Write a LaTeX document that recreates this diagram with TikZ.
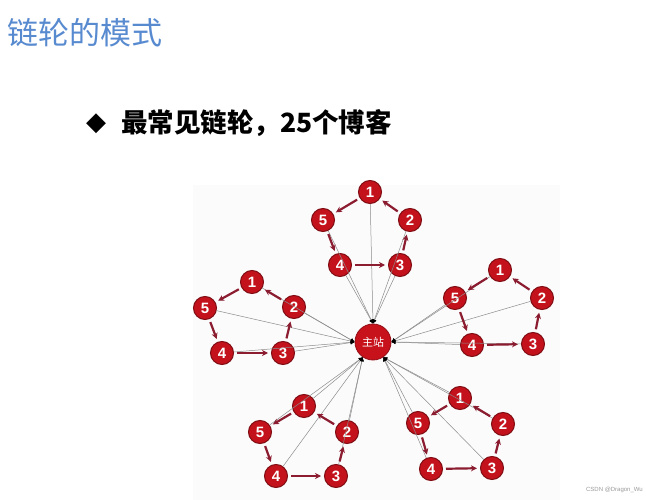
\documentclass[tikz,border=0pt]{standalone}
\usepackage{fontspec}
\usepackage{tikz}
\usetikzlibrary{arrows.meta}
\setmainfont{Liberation Sans}
\newfontfamily\cjk{Noto Sans CJK SC}
\newfontfamily\symfont{DejaVu Sans}
\definecolor{titleblue}{RGB}{88,138,208}
\definecolor{nodered}{RGB}{196,18,28}
\definecolor{arrowred}{RGB}{140,28,48}
\tikzstyle{site}=[circle, fill=nodered, draw=nodered!65!black, line width=1pt, inner sep=0pt, minimum size=23pt, text=white, font=\bfseries\fontsize{15}{15}\selectfont]
\tikzstyle{hub}=[circle, fill=nodered!95!red, draw=nodered!75!black, line width=0.8pt, inner sep=0pt, minimum size=36pt, text=white, font=\cjk\fontsize{11}{11}\selectfont]
\tikzstyle{ring}=[-{Stealth[length=6pt, width=6pt]}, draw=arrowred, line width=2.2pt, shorten <=3pt, shorten >=3pt]
\tikzstyle{spoke}=[-{Latex[black, length=4pt, width=4pt]}, draw=black!45, line width=0.5pt]
\newcommand{\site}{\node[site]}

\begin{document}
\begin{tikzpicture}[x=1pt, y=-1pt]
    \useasboundingbox (0,0) rectangle (646,500);
    \fill[black!1.5] (193,185) rectangle (560,500);

    % heading and bullet line
    \node[anchor=west, text=titleblue, font=\cjk\fontsize{31}{31}\selectfont, inner sep=0pt] (title) at (7,33) {链轮的模式};
    \node[font=\symfont\fontsize{26}{26}\selectfont, inner sep=0pt] (bullet) at (96,124) {◆};
    \node[anchor=west, font=\cjk\bfseries\fontsize{26.5}{26.5}\selectfont, inner sep=0pt] (headline) at (121,123) {最常见链轮，25个博客};

    % main site
    \node[hub] (main) at (373,342) {主站};

    % top wheel
    \site (t1) at (370,192) {1};
    \site (t2) at (410,220) {2};
    \site (t3) at (400,265) {3};
    \site (t4) at (340,265) {4};
    \site (t5) at (323,220) {5};
    % left wheel
    \site (l1) at (252,282) {1};
    \site (l2) at (294,307) {2};
    \site (l3) at (283,353) {3};
    \site (l4) at (222,353) {4};
    \site (l5) at (205,308) {5};
    % right wheel
    \site (r1) at (500,270) {1};
    \site (r2) at (542,298) {2};
    \site (r3) at (533,344) {3};
    \site (r4) at (472,345) {4};
    \site (r5) at (455,298) {5};
    % lower left wheel
    \site (a1) at (304,406) {1};
    \site (a2) at (347,432) {2};
    \site (a3) at (336,476) {3};
    \site (a4) at (276,476) {4};
    \site (a5) at (260,432) {5};
    % lower right wheel
    \site (b1) at (460,398) {1};
    \site (b2) at (503,424) {2};
    \site (b3) at (492,468) {3};
    \site (b4) at (431,469) {4};
    \site (b5) at (418,423) {5};

    % every blog links to the main site
    \path[spoke]
    (t1) edge (main.north)
    (t2) edge (main.north)
    (t3) edge (main.north)
    (t4) edge (main.north)
    (t5) edge (main.north)
    (l1) edge (main.west)
    (l2) edge (main.west)
    (l3) edge (main.west)
    (l4) edge (main.west)
    (l5) edge (main.west)
    (r1) edge (main.east)
    (r2) edge (main.east)
    (r3) edge (main.east)
    (r4) edge (main.east)
    (r5) edge (main.east)
    (a1) edge (main.236)
    (a2) edge (main.236)
    (a3) edge (main.236)
    (a4) edge (main.236)
    (a5) edge (main.236)
    (b1) edge (main.304)
    (b2) edge (main.304)
    (b3) edge (main.304)
    (b4) edge (main.304)
    (b5) edge (main.304);

    % the wheels
    \path[ring]
    (t1) edge (t5) (t5) edge (t4) (t4) edge (t3) (t3) edge (t2) (t2) edge (t1)
    (l1) edge (l5) (l5) edge (l4) (l4) edge (l3) (l3) edge (l2) (l2) edge (l1)
    (r1) edge (r5) (r5) edge (r4) (r4) edge (r3) (r3) edge (r2) (r2) edge (r1)
    (a1) edge (a5) (a5) edge (a4) (a4) edge (a3) (a3) edge (a2) (a2) edge (a1)
    (b1) edge (b5) (b5) edge (b4) (b4) edge (b3) (b3) edge (b2) (b2) edge (b1);

    \node[anchor=east, text=black!40, font=\fontsize{6}{6}\selectfont, inner sep=0pt] (mark) at (643,490) {CSDN @Dragon\_Wu};
\end{tikzpicture}
\end{document}
